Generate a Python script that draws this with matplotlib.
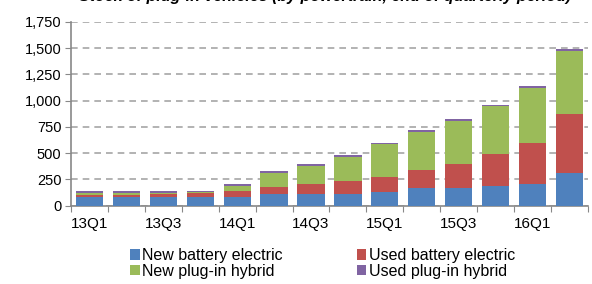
import matplotlib.pyplot as plt
import numpy as np

plt.rcParams['font.family'] = ['Liberation Sans', 'DejaVu Sans']

# quarters and stacked series (thousands of vehicles)
quarters = ['13Q1', '13Q2', '13Q3', '13Q4', '14Q1', '14Q2', '14Q3', '14Q4',
            '15Q1', '15Q2', '15Q3', '15Q4', '16Q1', '16Q2']
new_bev = [86, 86, 86, 86, 86, 107, 114, 114, 133, 168, 168, 188, 207, 308]
used_bev = [15, 15, 28, 31, 50, 66, 89, 121, 137, 172, 226, 308, 390, 566]
new_phev = [19, 19, 5, 16, 51, 140, 175, 229, 314, 365, 416, 451, 524, 594]
used_phev = [19, 19, 20, 3, 19, 16, 16, 16, 16, 16, 16, 15, 16, 25]

labels = ['New battery electric', 'Used battery electric',
          'New plug-in hybrid', 'Used plug-in hybrid']
colors = ['#4F81BD', '#C0504D', '#9BBB59', '#8064A2']

fig = plt.figure(figsize=(5.92, 2.84), dpi=100)
ax = fig.add_axes([0.12, 0.276, 0.873, 0.647])

x = np.arange(len(quarters))
bottom = np.zeros(len(quarters))
bars = []
for vals, lab, col in zip([new_bev, used_bev, new_phev, used_phev], labels, colors):
    b = ax.bar(x, vals, width=0.74, bottom=bottom, color=col, label=lab, zorder=3)
    bars.append(b)
    bottom += np.array(vals)

ax.set_xlim(-0.5, len(quarters) - 0.5)
ax.set_ylim(0, 1750)
ax.set_yticks(range(0, 1751, 250))
ax.set_yticklabels([f'{v:,}' for v in range(0, 1751, 250)], fontsize=10.5)
ax.yaxis.grid(True, linestyle=(0, (4, 3)), color='#A6A6A6', linewidth=1.2, zorder=0)

# tick marks between categories, labels on every other quarter
ax.set_xticks(np.arange(-0.5, len(quarters), 1))
ax.set_xticklabels([])
ax.set_xticks(x[::2], minor=True)
ax.set_xticklabels(quarters[::2], minor=True, fontsize=11)
ax.tick_params(axis='x', which='minor', length=0, pad=8)
ax.tick_params(axis='x', which='major', length=4, color='#888888', direction='out')
ax.tick_params(axis='y', length=4, color='#888888', direction='out', pad=3)

for s in ['top', 'right']:
    ax.spines[s].set_visible(False)
for s in ['left', 'bottom']:
    ax.spines[s].set_color('#888888')
    ax.spines[s].set_linewidth(1.2)

# legend filled row by row: new/used battery on top, new/used hybrid below
order = [0, 2, 1, 3]
fig.legend([bars[i] for i in order], [labels[i] for i in order],
           loc='center', bbox_to_anchor=(0.545, 0.072), ncol=2, frameon=False,
           fontsize=11.5, handlelength=0.6, handleheight=0.6, handletextpad=0.15,
           columnspacing=4.6, labelspacing=0.05, borderpad=0)

fig.text(0.55, 1.012, 'Stock of plug-in vehicles (by powertrain, end of quarterly period)',
         ha='center', va='center', fontsize=11.5, fontweight='bold', fontstyle='italic')

fig.savefig('out.png', dpi=100)
